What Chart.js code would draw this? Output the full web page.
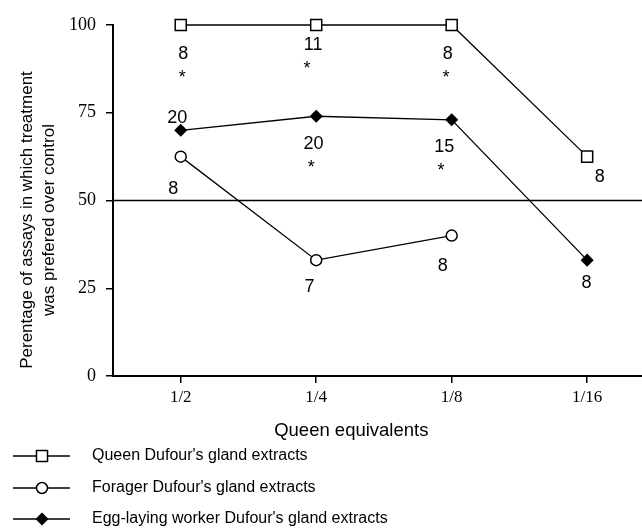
<!DOCTYPE html>
<html><head><meta charset="utf-8">
<script src="https://cdn.jsdelivr.net/npm/chart.js@4.4.1/dist/chart.umd.min.js"></script>
<style>html,body{margin:0;padding:0;background:#fff;overflow:hidden}#wrap{width:642px;height:528px;position:relative;overflow:hidden}</style>
</head><body><div id="wrap"><canvas id="c" width="652" height="528"></canvas></div>
<script>
// ---- data ----
const categories = ['1/2', '1/4', '1/8', '1/16'];
const seriesNames = ["Queen Dufour's gland extracts", "Forager Dufour's gland extracts", "Egg-laying worker Dufour's gland extracts"];
const queenValues = [100, 100, 100, 62.5];
const foragerValues = [62.5, 33, 40];
const eggLayingValues = [70, 74, 73, 33];
const queenN = [8, 11, 8, 8];
const foragerN = [8, 7, 8];
const eggLayingN = [20, 20, 15, 8];
const queenSignificant = [true, true, true, false];
const foragerSignificant = [false, false, false];
const eggLayingSignificant = [false, true, true, false];
const yTicks = [0, 25, 50, 75, 100];
const referenceValue = 50;
const xTitle = 'Queen equivalents';
const yTitle = ['Perentage of assays in which treatment', 'was prefered over control'];

// ---- label placement (pixel offsets from each point) ----
const nOffsets = [
  [[2.6, 27.7], [-3, 18.3], [-4, 27.7], [12.6, 18.4]],
  [[-7.4, 31], [-6.6, 25], [-8.9, 29]],
  [[-3.4, -13.4], [-2.7, 26.6], [-7.4, 26], [-0.7, 21.3]]
];
const starOffsets = [
  [[1.6, 47.7], [-9.3, 39], [-5.7, 47.7], null],
  [null, null, null],
  [null, [-5, 46.6], [-10.7, 46], null]
];
const nArrays = [queenN, foragerN, eggLayingN];
const sigArrays = [queenSignificant, foragerSignificant, eggLayingSignificant];

const toPoints = arr => arr.map((v, i) => ({x: i + 1, y: v}));

function marker(ctx, style, r, bg, x, y) {
  ctx.save();
  ctx.beginPath();
  if (style === 'rect') {
    const s = Math.SQRT1_2 * r;
    ctx.rect(x - s, y - s, 2 * s, 2 * s);
  } else if (style === 'rectRot') {
    ctx.moveTo(x - r, y); ctx.lineTo(x, y - r); ctx.lineTo(x + r, y); ctx.lineTo(x, y + r); ctx.closePath();
  } else {
    ctx.arc(x, y, r, 0, Math.PI * 2);
  }
  ctx.fillStyle = bg; ctx.fill();
  ctx.lineWidth = 1.5; ctx.strokeStyle = '#000'; ctx.stroke();
  ctx.restore();
}

const decor = {
  id: 'decor',
  beforeDatasetsDraw(chart) {
    const {ctx, chartArea, scales} = chart;
    const y = scales.y.getPixelForValue(referenceValue);
    ctx.save();
    ctx.strokeStyle = '#000'; ctx.lineWidth = 1.5;
    ctx.beginPath(); ctx.moveTo(chartArea.left, y); ctx.lineTo(chartArea.right, y); ctx.stroke();
    ctx.restore();
  },
  afterDraw(chart) {
    const {ctx, scales} = chart;
    ctx.save();
    ctx.fillStyle = '#000';
    const fs = 18;
    ctx.font = fs + 'px "Liberation Sans", Arial, sans-serif';
    ctx.textAlign = 'center'; ctx.textBaseline = 'alphabetic';
    chart.data.datasets.forEach((ds, di) => {
      ds.data.forEach((p, i) => {
        const px = scales.x.getPixelForValue(p.x), py = scales.y.getPixelForValue(p.y);
        const o = nOffsets[di][i];
        ctx.fillText(String(nArrays[di][i]), px + o[0], py + o[1] + 0.36 * fs);
        if (sigArrays[di][i] && starOffsets[di][i]) {
          const s = starOffsets[di][i];
          ctx.fillText('*', px + s[0], py + s[1] + 0.58 * fs);
        }
      });
    });
    ctx.font = '18.5px "Liberation Sans", Arial, sans-serif';
    ctx.fillText(xTitle, 351.3, 436);
    ctx.save();
    ctx.translate(32, 220);
    ctx.rotate(-Math.PI / 2);
    ctx.font = '17px "Liberation Sans", Arial, sans-serif';
    yTitle.forEach((t, i) => ctx.fillText(t, 0, i * 21.5));
    ctx.restore();
    const rows = [456, 488, 519];
    chart.data.datasets.forEach((ds, di) => {
      const y = rows[di];
      ctx.strokeStyle = '#000'; ctx.lineWidth = 1.3;
      ctx.beginPath(); ctx.moveTo(13, y); ctx.lineTo(70, y); ctx.stroke();
      marker(ctx, ds.pointStyle, ds.legendRadius, ds.pointBackgroundColor, 42, y);
      ctx.font = '16px "Liberation Sans", Arial, sans-serif';
      ctx.textAlign = 'left'; ctx.textBaseline = 'middle';
      ctx.fillText(ds.label, 92, y);
    });
    ctx.restore();
  }
};

const baseDs = {borderColor: '#000', borderWidth: 1.3, pointBorderColor: '#000', pointBorderWidth: 1.5, clip: false, tension: 0};

new Chart(document.getElementById('c'), {
  type: 'line',
  data: {
    datasets: [
      Object.assign({}, baseDs, {label: seriesNames[0], data: toPoints(queenValues), pointStyle: 'rect', pointRadius: 7.8, legendRadius: 7.8, pointBackgroundColor: '#fff'}),
      Object.assign({}, baseDs, {label: seriesNames[1], data: toPoints(foragerValues), pointStyle: 'circle', pointRadius: 5.5, legendRadius: 5.5, pointBackgroundColor: '#fff'}),
      Object.assign({}, baseDs, {label: seriesNames[2], data: toPoints(eggLayingValues), pointStyle: 'rectRot', pointRadius: 5.5, legendRadius: 5.5, pointBackgroundColor: '#000'})
    ]
  },
  options: {
    responsive: false, animation: false, devicePixelRatio: 1,
    layout: {padding: {top: 25, right: 0, bottom: 122, left: 0}},
    plugins: {legend: {display: false}, tooltip: {enabled: false}},
    scales: {
      x: {
        type: 'linear', min: 0.5, max: 4.41,
        afterBuildTicks: s => { s.ticks = categories.map((c, i) => ({value: i + 1})); },
        afterFit: s => { s.height = 30; s.paddingRight = 0; s.paddingLeft = 0; },
        ticks: {callback: v => categories[Math.round(v) - 1], font: {family: '"Liberation Serif", serif', size: 17}, color: '#000', padding: 4, autoSkip: false, maxRotation: 0},
        grid: {drawOnChartArea: false, drawTicks: true, tickLength: 7, color: '#000', lineWidth: 1.5},
        border: {display: true, color: '#000', width: 2}
      },
      y: {
        min: 0, max: 100,
        afterBuildTicks: s => { s.ticks = yTicks.map(v => ({value: v})); },
        afterFit: s => { s.width = 113; s.paddingTop = 0; s.paddingBottom = 0; },
        ticks: {font: {family: '"Liberation Serif", serif', size: 18}, color: '#000', padding: 10},
        grid: {drawOnChartArea: false, drawTicks: true, tickLength: 7, color: '#000', lineWidth: 1.5},
        border: {display: true, color: '#000', width: 2}
      }
    }
  },
  plugins: [decor]
});
</script>
</body></html>
